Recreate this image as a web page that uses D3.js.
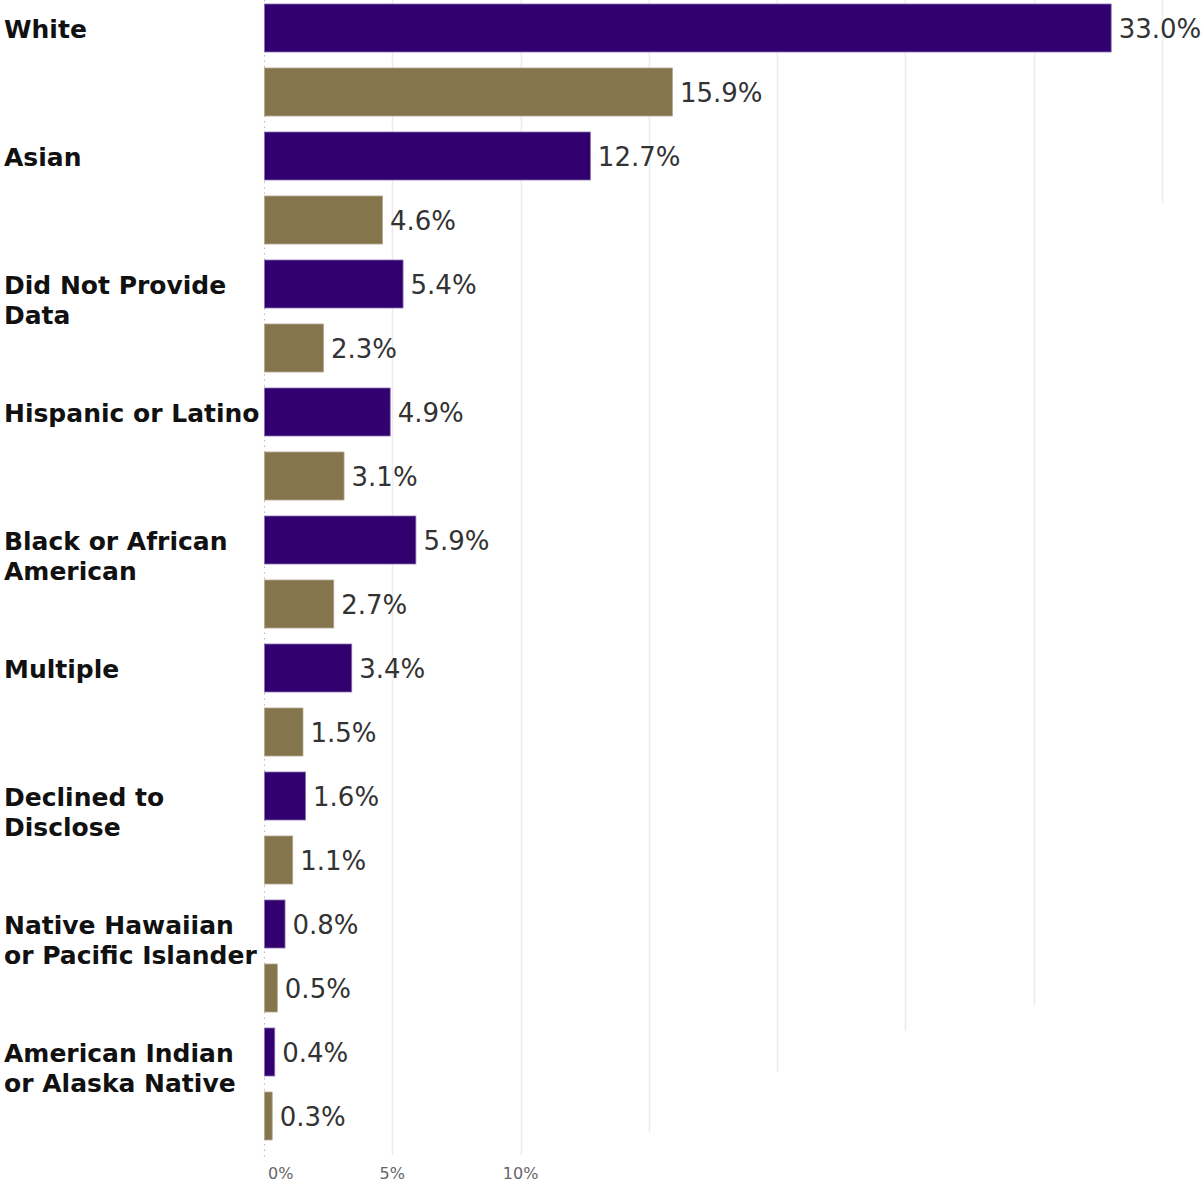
<!DOCTYPE html>
<html>
<head>
<meta charset="utf-8">
<script src="https://cdn.jsdelivr.net/npm/d3@7"></script>
<style>
  html, body { margin: 0; padding: 0; background: #fff; }
  svg { display: block; }
</style>
</head>
<body>
<svg id="chart" width="1203" height="1184"></svg>
<script>
// Category labels (each entry is the list of lines drawn for that category)
const categories = [
  ["White"],
  ["Asian"],
  ["Did Not Provide", "Data"],
  ["Hispanic or Latino"],
  ["Black or African", "American"],
  ["Multiple"],
  ["Declined to", "Disclose"],
  ["Native Hawaiian", "or Pacific Islander"],
  ["American Indian", "or Alaska Native"]
];

// Percent values, two series per category
const purpleValues = [33.0, 12.7, 5.4, 4.9, 5.9, 3.4, 1.6, 0.8, 0.4];
const goldValues   = [15.9, 4.6, 2.3, 3.1, 2.7, 1.5, 1.1, 0.5, 0.3];

const seriesNames = ["purple", "gold"];
const seriesColors = ["#32006e", "#85754d"];
const seriesStroke = ["#8a6fb0", "#b3a88c"];

// Axis ticks and their labels
const gridTicks = [5, 10, 15, 20, 25, 30, 35];
const tickLabels = ["0%", "5%", "10%"];
const tickLabelValues = [0, 5, 10];

const svg = d3.select("#chart");

const x = d3.scaleLinear().domain([0, 35]).range([264, 1162]);

const catKeys = categories.map((c, i) => i);
const yOuter = d3.scaleBand().domain(catKeys).range([-4, 1148]).padding(0);
const yInner = d3.scaleBand().domain(seriesNames)
  .range([0, yOuter.bandwidth()]).paddingInner(0.25).paddingOuter(0.125);

// Grid lines: the lower part of each line is covered by the open area under the plot
const gridEnds = {5: 1155, 10: 1155, 15: 1132, 20: 1072, 25: 1031, 30: 1005, 35: 203};
svg.append("g").selectAll("line").data(gridTicks).join("line")
  .attr("x1", d => Math.round(x(d)) + 0.5).attr("x2", d => Math.round(x(d)) + 0.5)
  .attr("y1", 0).attr("y2", d => gridEnds[d])
  .attr("stroke", "#ececec").attr("stroke-width", 1.5);

// Zero line (dotted)
svg.append("line")
  .attr("x1", x(0) + 0.5).attr("x2", x(0) + 0.5)
  .attr("y1", 0).attr("y2", 1160)
  .attr("stroke", "#bdbdbd").attr("stroke-width", 1.2)
  .attr("stroke-dasharray", "1.5,4");

const rows = [];
categories.forEach((c, i) => {
  rows.push({cat: i, s: 0, v: purpleValues[i]});
  rows.push({cat: i, s: 1, v: goldValues[i]});
});

const yPos = d => yOuter(d.cat) + yInner(seriesNames[d.s]);

svg.append("g").selectAll("rect").data(rows).join("rect")
  .attr("x", x(0) + 0.5)
  .attr("y", d => yPos(d))
  .attr("width", d => Math.max(1, x(d.v) - x(0)))
  .attr("height", yInner.bandwidth())
  .attr("fill", d => seriesColors[d.s])
  .attr("stroke", d => seriesStroke[d.s])
  .attr("stroke-width", 0.8);

// Value labels
svg.append("g").selectAll("text").data(rows).join("text")
  .attr("x", d => x(d.v) + 8)
  .attr("y", d => yPos(d) + yInner.bandwidth() / 2 + 1)
  .attr("dy", "0.35em")
  .attr("font-family", "DejaVu Sans, Verdana, sans-serif")
  .attr("font-size", 26)
  .attr("fill", "#333")
  .text(d => d.v.toFixed(1) + "%");

// Category labels
const catG = svg.append("g").selectAll("text").data(categories).join("text")
  .attr("font-family", "DejaVu Sans, Verdana, sans-serif")
  .attr("font-weight", "bold")
  .attr("font-size", 25)
  .attr("fill", "#111")
  .attr("x", 4)
  .attr("y", (d, i) => yOuter(i) + yInner("purple") + yInner.bandwidth() / 2 + 1.5);
catG.selectAll("tspan").data(d => d).join("tspan")
  .attr("x", 4)
  .attr("dy", (d, j) => j === 0 ? "0.35em" : "30px")
  .text(d => d);

// Bottom tick labels
svg.append("g").selectAll("text").data(tickLabelValues).join("text")
  .attr("x", (d, i) => i === 0 ? x(d) + 4 : x(d))
  .attr("y", 1173)
  .attr("dy", "0.35em")
  .attr("text-anchor", (d, i) => i === 0 ? "start" : "middle")
  .attr("font-family", "DejaVu Sans, Verdana, sans-serif")
  .attr("font-size", 16)
  .attr("fill", "#666")
  .text((d, i) => tickLabels[i]);
</script>
</body>
</html>
